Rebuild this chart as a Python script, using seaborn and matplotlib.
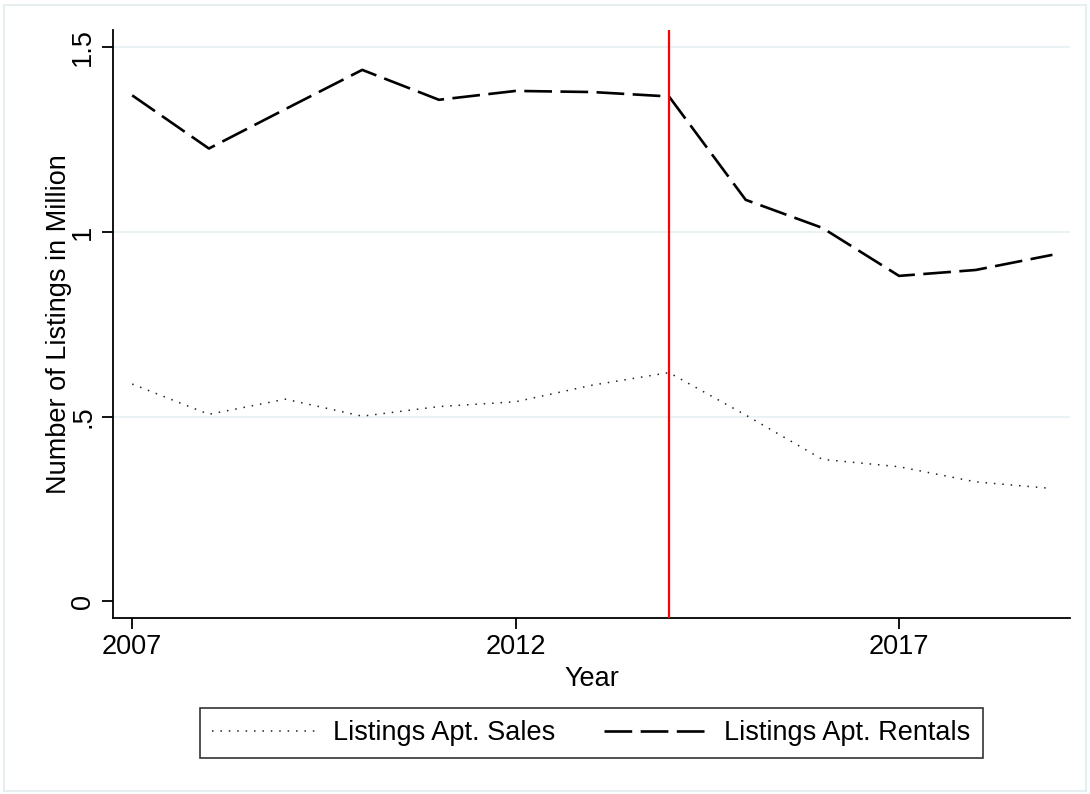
import matplotlib
matplotlib.use('Agg')
import matplotlib.pyplot as plt
import seaborn as sns
from matplotlib.patches import Rectangle

# data
years = [2007, 2008, 2009, 2010, 2011, 2012, 2013, 2014, 2015, 2016, 2017, 2018, 2019]
sales = [0.588, 0.506, 0.547, 0.501, 0.527, 0.540, 0.585, 0.619, 0.504, 0.384, 0.364, 0.323, 0.305]
rentals = [1.370, 1.226, 1.333, 1.439, 1.358, 1.382, 1.379, 1.367, 1.087, 1.011, 0.881, 0.897, 0.938]
event_year = 2014
xticks = [2007, 2012, 2017]
yticks = [0, 0.5, 1, 1.5]
ytick_labels = ['0', '.5', '1', '1.5']
grid_at = [0.5, 1, 1.5]

sns.set_theme(style="white")
plt.rcParams['font.family'] = ['Liberation Sans', 'DejaVu Sans']
plt.rcParams['text.color'] = 'black'
plt.rcParams['axes.labelcolor'] = 'black'
plt.rcParams['xtick.color'] = 'black'
plt.rcParams['ytick.color'] = 'black'

fig = plt.figure(figsize=(10.9, 7.94), dpi=100)
ax = fig.add_axes([0.1037, 0.2220, 0.8780, 0.7402])

# gridlines (none at zero, as in the reference)
for yv in grid_at:
    ax.axhline(yv, color='#EAF2F3', lw=1.5, zorder=0)

sns.lineplot(x=years, y=sales, ax=ax, color='#222222', lw=1.1,
             label='Listings Apt. Sales')
sns.lineplot(x=years, y=rentals, ax=ax, color='black', lw=1.9,
             label='Listings Apt. Rentals')
ax.lines[-2].set_dashes([1, 4.5])
ax.lines[-1].set_dashes([10.5, 3.2])

ax.axvline(event_year, color='#FF0000', lw=1.6, zorder=3)

ax.set_xlim(2006.75, 2019.23)
ax.set_ylim(-0.045, 1.547)
ax.set_xticks(xticks)
ax.set_xticklabels([str(x) for x in xticks], fontsize=19.5)
ax.set_yticks(yticks)
ax.set_yticklabels(ytick_labels, fontsize=19.5, rotation=90, va='center')
ax.tick_params(axis='both', direction='out', length=8, width=1.3, color='black',
               bottom=True, left=True, pad=4)
ax.set_xlabel('Year', fontsize=19.5, labelpad=4)
ax.set_ylabel('Number of Listings in Million', fontsize=19.5, labelpad=-1)

for side in ['top', 'right']:
    ax.spines[side].set_visible(False)
for side in ['left', 'bottom']:
    ax.spines[side].set_color('black')
    ax.spines[side].set_linewidth(1.3)

ax.get_legend().remove()
handles, labels = ax.get_legend_handles_labels()
leg = fig.legend(handles, labels, loc='center', bbox_to_anchor=(0.5427, 0.0768),
                 ncol=2, fontsize=19.5, frameon=True, fancybox=False,
                 handlelength=3.8, handletextpad=0.65, columnspacing=1.8,
                 borderpad=0.45)
leg.get_frame().set_edgecolor('black')
leg.get_frame().set_linewidth(1.2)

# light outer frame of the graph region
fig.patches.append(Rectangle((0.004, 0.004), 0.992, 0.99, transform=fig.transFigure,
                             fill=False, edgecolor='#E6EEF0', lw=1.5))

fig.savefig('out.png', dpi=100)
